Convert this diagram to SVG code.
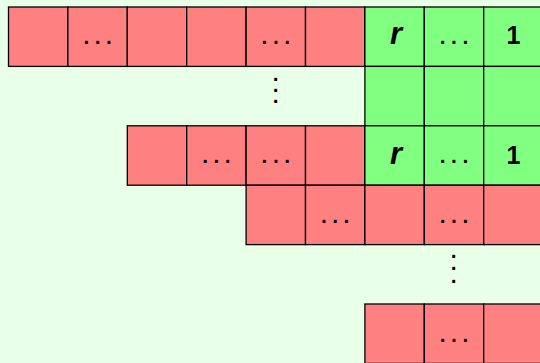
<svg xmlns="http://www.w3.org/2000/svg" width="540" height="363" viewBox="0 0 540 363">
<style>
.r{fill:#FF8080;stroke:#000;stroke-width:1.3}
.g{fill:#80FF80;stroke:#000;stroke-width:1.3}
.d{font-family:"Liberation Sans",Arial,sans-serif;font-size:30px;text-anchor:middle;fill:#000}
.v{font-family:"Liberation Sans",Arial,sans-serif;font-style:italic;font-weight:bold;font-size:31px;text-anchor:middle;fill:#000}
.n{font-family:"Liberation Sans",Arial,sans-serif;font-weight:bold;font-size:25px;text-anchor:middle;fill:#000}
</style>
<rect width="540" height="363" fill="#E8FFE8"/>
<g id="row0">
<g id="r0c0"><rect class="r" x="8.5" y="7" width="59.4" height="59.4"/></g>
<g id="r0c1"><rect class="r" x="67.9" y="7" width="59.4" height="59.4"/><text class="d" x="86.3 97.6 108.9" y="43.8">...</text></g>
<g id="r0c2"><rect class="r" x="127.3" y="7" width="59.4" height="59.4"/></g>
<g id="r0c3"><rect class="r" x="186.7" y="7" width="59.4" height="59.4"/></g>
<g id="r0c4"><rect class="r" x="246.1" y="7" width="59.4" height="59.4"/><text class="d" x="264.5 275.8 287.1" y="43.8">...</text></g>
<g id="r0c5"><rect class="r" x="305.5" y="7" width="59.4" height="59.4"/></g>
<g id="r0c6"><rect class="g" x="364.9" y="7" width="59.4" height="59.4"/><text class="v" x="396" y="44.3">r</text></g>
<g id="r0c7"><rect class="g" x="424.3" y="7" width="59.4" height="59.4"/><text class="d" x="442.7 454 465.3" y="43.8">...</text></g>
<g id="r0c8"><rect class="g" x="483.7" y="7" width="59.4" height="59.4"/><text class="n" x="513.4" y="44.4">1</text></g>
</g>
<g id="row1">
<g id="r1c6"><rect class="g" x="364.9" y="66.4" width="59.4" height="59.4"/></g>
<g id="r1c7"><rect class="g" x="424.3" y="66.4" width="59.4" height="59.4"/></g>
<g id="r1c8"><rect class="g" x="483.7" y="66.4" width="59.4" height="59.4"/></g>
<g id="vdots1"><text class="d" x="275.7 275.7 275.7" y="80.5 91.8 103.1">...</text></g>
</g>
<g id="row2">
<g id="r2c2"><rect class="r" x="127.3" y="125.8" width="59.4" height="59.4"/></g>
<g id="r2c3"><rect class="r" x="186.7" y="125.8" width="59.4" height="59.4"/><text class="d" x="205.1 216.4 227.7" y="163.2">...</text></g>
<g id="r2c4"><rect class="r" x="246.1" y="125.8" width="59.4" height="59.4"/><text class="d" x="264.5 275.8 287.1" y="163.2">...</text></g>
<g id="r2c5"><rect class="r" x="305.5" y="125.8" width="59.4" height="59.4"/></g>
<g id="r2c6"><rect class="g" x="364.9" y="125.8" width="59.4" height="59.4"/><text class="v" x="396" y="163.5">r</text></g>
<g id="r2c7"><rect class="g" x="424.3" y="125.8" width="59.4" height="59.4"/><text class="d" x="442.7 454 465.3" y="163.2">...</text></g>
<g id="r2c8"><rect class="g" x="483.7" y="125.8" width="59.4" height="59.4"/><text class="n" x="513.4" y="164.3">1</text></g>
</g>
<g id="row3">
<g id="r3c4"><rect class="r" x="246.1" y="185.2" width="59.4" height="59.4"/></g>
<g id="r3c5"><rect class="r" x="305.5" y="185.2" width="59.4" height="59.4"/><text class="d" x="323.9 335.2 346.5" y="222.5">...</text></g>
<g id="r3c6"><rect class="r" x="364.9" y="185.2" width="59.4" height="59.4"/></g>
<g id="r3c7"><rect class="r" x="424.3" y="185.2" width="59.4" height="59.4"/><text class="d" x="442.7 454 465.3" y="222.5">...</text></g>
<g id="r3c8"><rect class="r" x="483.7" y="185.2" width="59.4" height="59.4"/></g>
</g>
<g id="vdots2"><text class="d" x="453.7 453.7 453.7" y="258.2 270.4 282.6">...</text></g>
<g id="row5">
<g id="r5c6"><rect class="r" x="364.9" y="304" width="59.4" height="59.4"/></g>
<g id="r5c7"><rect class="r" x="424.3" y="304" width="59.4" height="59.4"/><text class="d" x="442.7 454 465.3" y="341.5">...</text></g>
<g id="r5c8"><rect class="r" x="483.7" y="304" width="59.4" height="59.4"/></g>
</g>
<g id="connectors"/>
</svg>
